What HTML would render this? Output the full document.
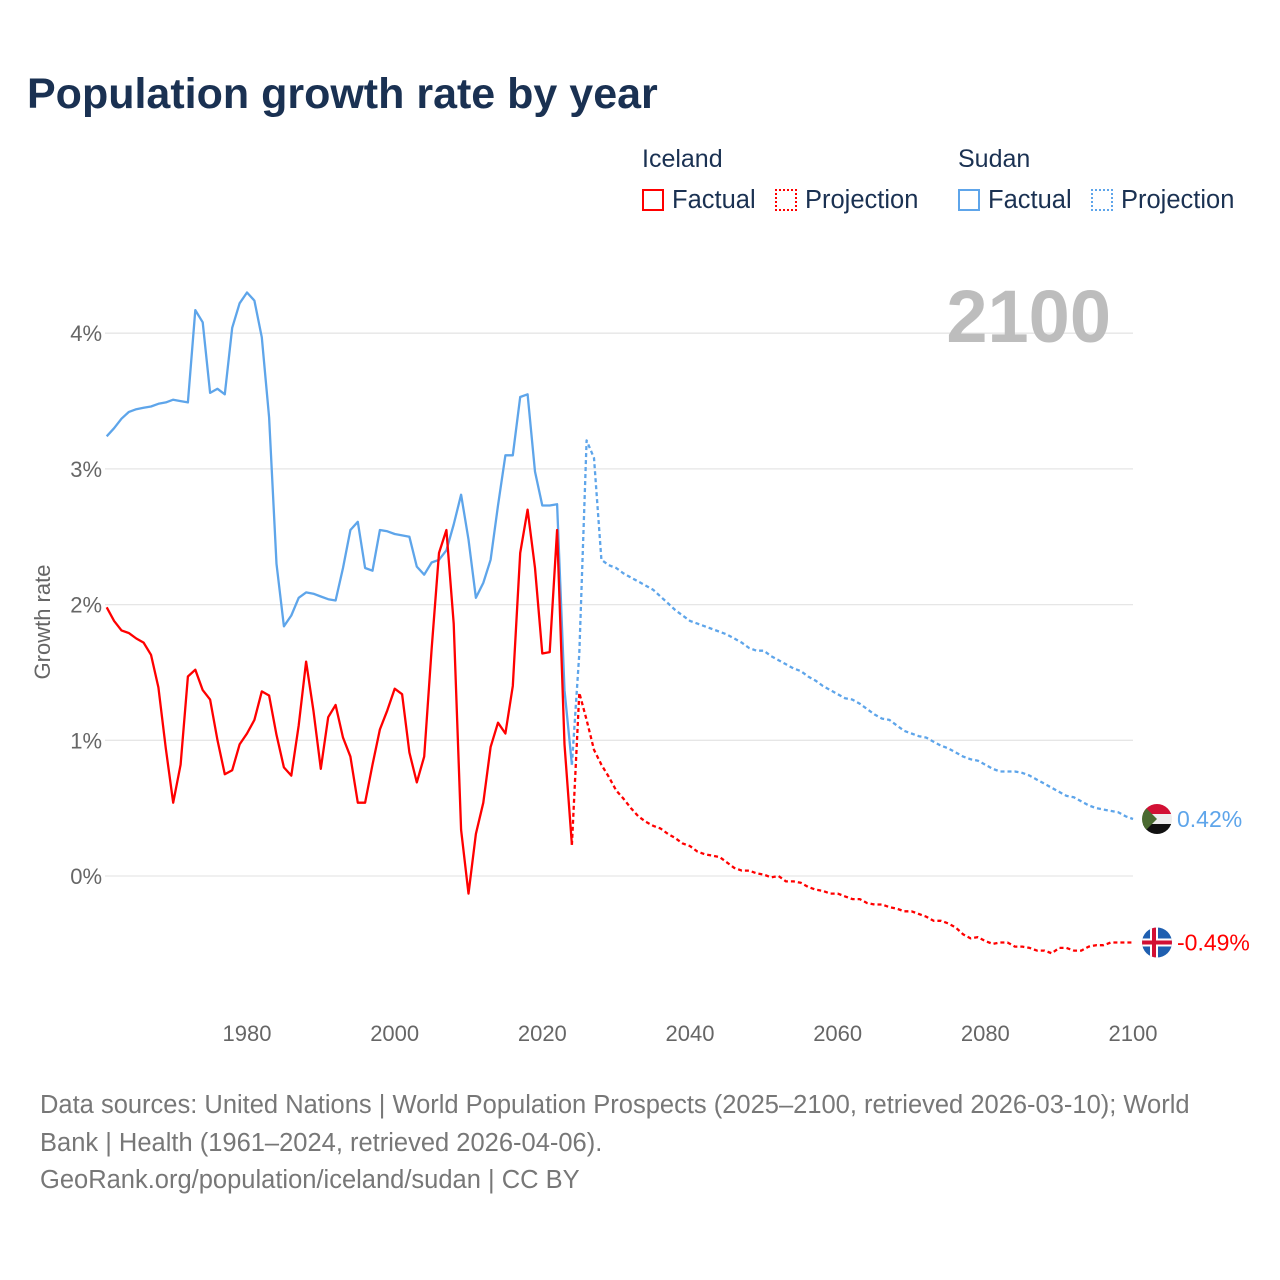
<!DOCTYPE html>
<html><head><meta charset="utf-8">
<style>
body{margin:0;background:#fff;font-family:"Liberation Sans",sans-serif;}
#wrap{position:relative;width:1280px;height:1280px;overflow:hidden;}
.t{position:absolute;white-space:nowrap;}
</style></head>
<body>
<div id="wrap">
<div class="t" style="left:27px;top:70px;font-size:43px;font-weight:bold;color:#1a3152;">Population growth rate by year</div>
<div class="t" style="left:642px;top:145px;font-size:25px;color:#1a3152;">Iceland</div>
<div class="t" style="left:958px;top:145px;font-size:25px;color:#1a3152;">Sudan</div>
<div class="t" style="left:642px;top:186px;font-size:25.5px;color:#1a3152;"><span style="display:inline-block;width:22px;height:22px;border:2px solid #f00;box-sizing:border-box;vertical-align:-3px;margin-right:8px;"></span>Factual</div>
<div class="t" style="left:775px;top:186px;font-size:25.5px;color:#1a3152;"><span style="display:inline-block;width:22px;height:22px;border:2px dotted #f00;box-sizing:border-box;vertical-align:-3px;margin-right:8px;"></span>Projection</div>
<div class="t" style="left:958px;top:186px;font-size:25.5px;color:#1a3152;"><span style="display:inline-block;width:22px;height:22px;border:2px solid #5ea5ea;box-sizing:border-box;vertical-align:-3px;margin-right:8px;"></span>Factual</div>
<div class="t" style="left:1091px;top:186px;font-size:25.5px;color:#1a3152;"><span style="display:inline-block;width:22px;height:22px;border:2px dotted #5ea5ea;box-sizing:border-box;vertical-align:-3px;margin-right:8px;"></span>Projection</div>
<div class="t" style="left:40px;top:1086px;font-size:25.5px;line-height:38px;color:#777;">Data sources: United Nations | World Population Prospects (2025–2100, retrieved 2026-03-10); World<br>Bank | Health (1961–2024, retrieved 2026-04-06).</div>
<div class="t" style="left:40px;top:1166px;font-size:25.5px;color:#777;">GeoRank.org/population/iceland/sudan | CC BY</div>
<svg id="chart" width="1280" height="1280" style="position:absolute;left:0;top:0;"></svg>
</div>
<script>
const yTicks=[0,1,2,3,4];
const xTicks=[1980,2000,2020,2040,2060,2080,2100];
const factualYears=[];for(let y=1961;y<=2024;y++)factualYears.push(y);
const projYears=[];for(let y=2024;y<=2100;y++)projYears.push(y);
const sudanFactual=[3.24,3.30,3.37,3.42,3.44,3.45,3.46,3.48,3.49,3.51,3.50,3.49,4.17,4.08,3.56,3.59,3.55,4.04,4.22,4.30,4.24,3.97,3.38,2.30,1.84,1.92,2.05,2.09,2.08,2.06,2.04,2.03,2.27,2.55,2.61,2.27,2.25,2.55,2.54,2.52,2.51,2.50,2.28,2.22,2.31,2.33,2.40,2.59,2.81,2.48,2.05,2.16,2.33,2.73,3.10,3.10,3.53,3.55,2.98,2.73,2.73,2.74,1.37,0.82];
const icelandFactual=[1.98,1.88,1.81,1.79,1.75,1.72,1.63,1.39,0.94,0.54,0.82,1.47,1.52,1.37,1.30,1.00,0.75,0.78,0.97,1.05,1.15,1.36,1.33,1.04,0.80,0.74,1.11,1.58,1.22,0.79,1.17,1.26,1.02,0.88,0.54,0.54,0.82,1.08,1.22,1.38,1.34,0.91,0.69,0.88,1.67,2.38,2.55,1.86,0.34,-0.13,0.31,0.54,0.95,1.13,1.05,1.40,2.38,2.70,2.27,1.64,1.65,2.55,0.97,0.23];
const sudanProj=[0.82,1.64,3.21,3.08,2.33,2.29,2.27,2.23,2.20,2.17,2.14,2.11,2.06,2.01,1.96,1.92,1.88,1.86,1.84,1.82,1.80,1.78,1.75,1.72,1.68,1.66,1.66,1.62,1.59,1.56,1.53,1.51,1.47,1.44,1.40,1.37,1.34,1.31,1.30,1.27,1.23,1.19,1.16,1.15,1.11,1.07,1.05,1.03,1.02,0.99,0.96,0.94,0.91,0.88,0.86,0.85,0.82,0.79,0.77,0.77,0.77,0.76,0.74,0.71,0.68,0.65,0.62,0.59,0.58,0.55,0.52,0.50,0.49,0.48,0.47,0.44,0.42];
const icelandProj=[0.23,1.35,1.15,0.93,0.82,0.73,0.63,0.57,0.50,0.44,0.40,0.37,0.35,0.31,0.28,0.24,0.22,0.18,0.16,0.15,0.14,0.10,0.06,0.04,0.04,0.02,0.01,-0.01,0.00,-0.04,-0.04,-0.05,-0.08,-0.10,-0.11,-0.13,-0.13,-0.15,-0.17,-0.17,-0.20,-0.21,-0.21,-0.23,-0.24,-0.26,-0.26,-0.28,-0.30,-0.33,-0.33,-0.35,-0.38,-0.43,-0.46,-0.45,-0.48,-0.50,-0.49,-0.49,-0.52,-0.52,-0.53,-0.55,-0.55,-0.57,-0.53,-0.53,-0.55,-0.55,-0.52,-0.51,-0.51,-0.49,-0.49,-0.49,-0.49];

const NS='http://www.w3.org/2000/svg';
const svg=document.getElementById('chart');
const X=yr=>247+(yr-1980)*(1133-247)/120;
const Y=v=>876-v*135.7;
function mk(tag,attrs){const e=document.createElementNS(NS,tag);for(const k in attrs)e.setAttribute(k,attrs[k]);svg.appendChild(e);return e;}

yTicks.forEach(t=>{
  const g=mk('line',{x1:105,x2:1133,y1:Y(t),y2:Y(t),stroke:'#e6e6e6','stroke-width':1.3});
  
  
  const l=mk('text',{x:102,y:Y(t)+8,'text-anchor':'end','font-size':22,fill:'#666','font-family':'Liberation Sans, sans-serif'});
  l.textContent=t+'%';
  
  
});
xTicks.forEach(t=>{
  const l=mk('text',{x:X(t),y:1041,'text-anchor':'middle','font-size':22,fill:'#666','font-family':'Liberation Sans, sans-serif'});
  l.textContent=t;
  
  
});
const yt=mk('text',{x:0,y:0,transform:'translate(50,622) rotate(-90)','text-anchor':'middle','font-size':22,fill:'#666','font-family':'Liberation Sans, sans-serif'});
yt.textContent='Growth rate';



const big=mk('text',{x:1111,y:342,'text-anchor':'end','font-size':74,'font-weight':'bold',fill:'#bdbdbd','font-family':'Liberation Sans, sans-serif'});
big.textContent='2100';



function line(years,vals,color,dash,name){
  const d=vals.map((v,i)=>(i?'L':'M')+X(years[i]).toFixed(1)+' '+Y(v).toFixed(1)).join(' ');
  const p=mk('path',{d:d,fill:'none',stroke:color,'stroke-width':2.3,'stroke-linejoin':'round'});
  if(dash)p.setAttribute('stroke-dasharray','4 3');
  
  
}
line(projYears,sudanProj,'#5ea5ea',true,'sudan-projection-line');
line(projYears,icelandProj,'#ff0000',true,'iceland-projection-line');
line(factualYears,sudanFactual,'#5ea5ea',false,'sudan-factual-line');
line(factualYears,icelandFactual,'#ff0000',false,'iceland-factual-line');

const sLast=sudanProj[sudanProj.length-1], iLast=icelandProj[icelandProj.length-1];
const defs=mk('defs',{});
defs.innerHTML='<clipPath id="c1"><circle cx="1157" cy="'+Y(sLast)+'" r="15"/></clipPath><clipPath id="c2"><circle cx="1157" cy="'+Y(iLast)+'" r="15"/></clipPath>';
const sy=Y(sLast), iy=Y(iLast);
const fs=document.createElementNS(NS,'g');fs.setAttribute('clip-path','url(#c1)');svg.appendChild(fs);


fs.innerHTML='<rect x="1142" y="'+(sy-15)+'" width="30" height="10" fill="#d21034"/><rect x="1142" y="'+(sy-5)+'" width="30" height="10" fill="#eee"/><rect x="1142" y="'+(sy+5)+'" width="30" height="10" fill="#111"/><polygon points="1142,'+(sy-15)+' 1157,'+sy+' 1142,'+(sy+15)+'" fill="#4a6a30"/>';
const fi=document.createElementNS(NS,'g');fi.setAttribute('clip-path','url(#c2)');svg.appendChild(fi);


fi.innerHTML='<rect x="1142" y="'+(iy-15)+'" width="30" height="30" fill="#1f5fb0"/><rect x="1142" y="'+(iy-4)+'" width="30" height="8" fill="#fff"/><rect x="1150" y="'+(iy-15)+'" width="8" height="30" fill="#fff"/><rect x="1142" y="'+(iy-2)+'" width="30" height="4" fill="#d21034"/><rect x="1152" y="'+(iy-15)+'" width="4" height="30" fill="#d21034"/>';
const sl=mk('text',{x:1177,y:sy+8,'font-size':23,fill:'#5ea5ea','font-family':'Liberation Sans, sans-serif'});
sl.textContent=sLast.toFixed(2)+'%';


const il=mk('text',{x:1177,y:iy+8,'font-size':23,fill:'#ff0000','font-family':'Liberation Sans, sans-serif'});
il.textContent=iLast.toFixed(2)+'%';


</script>
</body></html>
